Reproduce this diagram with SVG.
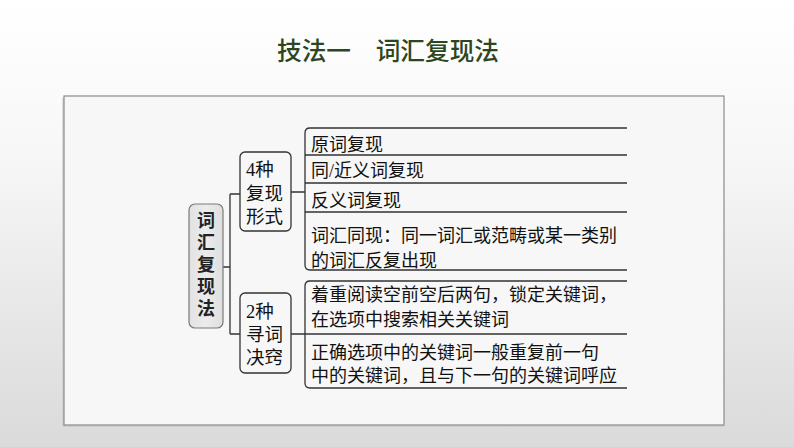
<svg xmlns="http://www.w3.org/2000/svg" width="794" height="447" viewBox="0 0 794 447">
  <defs>
    <linearGradient id="bg" x1="0" y1="0" x2="0" y2="1">
      <stop offset="0" stop-color="#ffffff"/>
      <stop offset="0.35" stop-color="#f7f7f7"/>
      <stop offset="1" stop-color="#dadada"/>
    </linearGradient>
    <linearGradient id="mainfill" x1="0" y1="0" x2="1" y2="0">
      <stop offset="0" stop-color="#e2e2e2"/>
      <stop offset="0.5" stop-color="#ececec"/>
      <stop offset="1" stop-color="#dedede"/>
    </linearGradient>
    <style>
      .title { font-family: "Noto Sans CJK SC", "Liberation Sans", sans-serif; font-size: 25px; font-weight: 500; fill: #2c461f; }
      .txt { font-family: "Liberation Serif", "Noto Sans CJK SC", serif; font-size: 18px; fill: #111; }
      .box { font-family: "Liberation Serif", "Noto Sans CJK SC", serif; font-size: 18.5px; fill: #111; }
      .main { font-family: "Noto Sans CJK SC", "Liberation Sans", sans-serif; font-size: 18px; font-weight: bold; fill: #222; writing-mode: vertical-rl; letter-spacing: 4px; }
      .node { fill: #f7f7f7; stroke: #333; stroke-width: 1.3; }
      .line { fill: none; stroke: #333; stroke-width: 1.3; }
    </style>
  </defs>
  <rect x="0" y="0" width="794" height="447" fill="url(#bg)"/>
  <text class="title" x="277" y="60" textLength="222" lengthAdjust="spacingAndGlyphs">技法一　词汇复现法</text>
  <g id="panel">
    <rect x="62" y="98" width="662" height="329" fill="#c8c8c8" opacity="0.6"/>
    <rect x="64" y="96" width="660" height="329" fill="#f7f7f7" stroke="#8a8a8a" stroke-width="1.2"/>
  </g>
  <g id="connectors">
    <path class="line" d="M223 267 H230 M230 194 V334 M230 194 H240 M230 334 H240"/>
    <path class="line" d="M291 192 H305 M291 334 H305"/>
    <path class="line" d="M627 128 H310 Q305 128 305 133 V265 Q305 270 310 270 H627"/>
    <path class="line" d="M305 155 H627 M305 183 H627 M305 212 H627"/>
    <path class="line" d="M627 281 H310 Q305 281 305 286 V383 Q305 388 310 388 H627"/>
    <path class="line" d="M305 334 H627"/>
  </g>
  <g id="node-main">
    <rect x="189" y="204" width="34" height="124" rx="6" fill="url(#mainfill)" stroke="#7a7a7a" stroke-width="1.2"/>
    <text class="main" x="206" y="211">词汇复现法</text>
  </g>
  <g id="node-forms">
    <rect class="node" x="240" y="152" width="51" height="79" rx="5"/>
    <text class="box" x="246" y="176">4种</text>
    <text class="box" x="246" y="200">复现</text>
    <text class="box" x="246" y="223">形式</text>
  </g>
  <g id="node-tips">
    <rect class="node" x="240" y="293" width="51" height="80" rx="5"/>
    <text class="box" x="246" y="318">2种</text>
    <text class="box" x="246" y="341">寻词</text>
    <text class="box" x="246" y="364">决窍</text>
  </g>
  <g id="item-1"><text class="txt" x="311" y="150.5">原词复现</text></g>
  <g id="item-2"><text class="txt" x="311" y="176.5">同/近义词复现</text></g>
  <g id="item-3"><text class="txt" x="311" y="206.5">反义词复现</text></g>
  <g id="item-4">
    <text class="txt" x="311" y="241.5">词汇同现：同一词汇或范畴或某一类别</text>
    <text class="txt" x="311" y="266.5">的词汇反复出现</text>
  </g>
  <g id="item-5">
    <text class="txt" x="311" y="300.5">着重阅读空前空后两句，锁定关键词，</text>
    <text class="txt" x="311" y="325.5">在选项中搜索相关关键词</text>
  </g>
  <g id="item-6">
    <text class="txt" x="311" y="358.5">正确选项中的关键词一般重复前一句</text>
    <text class="txt" x="311" y="381.5">中的关键词，且与下一句的关键词呼应</text>
  </g>
</svg>
